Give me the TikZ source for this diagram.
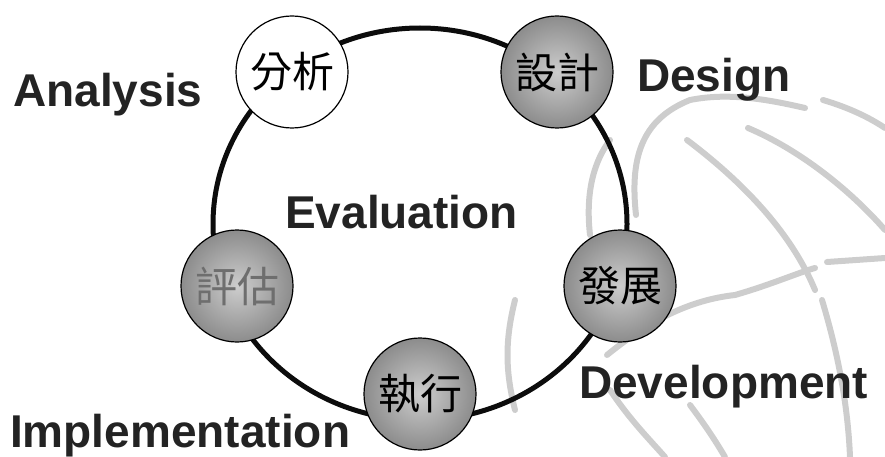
\documentclass[tikz,border=0pt]{standalone}
\usepackage{fontspec}
\setmainfont{Liberation Sans}
\newfontfamily\cjkfont{Noto Sans CJK TC}
\usetikzlibrary{positioning}
\definecolor{ringblack}{RGB}{12,12,12}
\definecolor{stagefill}{RGB}{140,140,140}
\definecolor{stagelight}{RGB}{205,205,205}
\definecolor{tagdark}{RGB}{35,35,35}
\definecolor{globegray}{RGB}{205,205,205}
\definecolor{fadedtext}{RGB}{110,110,110}
\tikzset{
  stage/.style={
    circle, draw=black, line width=1.2pt,
    minimum size=112pt, inner sep=0pt,
    font=\cjkfont\fontsize{42}{42}\selectfont
  },
  stageshade/.style={stage, inner color=stagelight, outer color=stagefill},
  tag/.style={anchor=base west, inner sep=0pt,
    font=\bfseries\fontsize{46}{46}\selectfont, text=tagdark},
  ring/.style={line width=5pt, draw=ringblack},
  globe/.style={line width=6pt, draw=globegray, line cap=round},
}

\begin{document}
\begin{tikzpicture}[x=1pt, y=-1pt]
\useasboundingbox (0,0) rectangle (885,457);

%% ─── GLOBE (background) ─────────────────────────────────────
\draw[globe] (636,215) .. controls (630,160) and (640,120) .. (690,100)
  .. controls (730,92) and (770,100) .. (805,108);
\draw[globe] (687,140) .. controls (740,180) and (790,230) .. (815,290);
\draw[globe] (748,128) .. controls (800,150) and (850,190) .. (885,230);
\draw[globe] (823,100) .. controls (850,108) and (870,118) .. (885,128);
\draw[globe] (607,355) .. controls (650,320) and (690,300) .. (735,295)
  .. controls (770,285) and (800,272) .. (815,268);
\draw[globe] (827,262) -- (885,258);
\draw[globe] (822,300) .. controls (840,360) and (848,410) .. (850,457);
\draw[globe] (610,390) .. controls (630,420) and (650,440) .. (665,457);
\draw[globe] (690,405) .. controls (705,425) and (715,440) .. (725,457);
\draw[globe] (590,235) .. controls (585,190) and (595,160) .. (610,140);
\draw[globe] (515,300) .. controls (505,340) and (505,370) .. (515,410);

%% ─── RING ───────────────────────────────────────────────────
\coordinate (hub) at (420,224);
\draw[ring] (hub) ellipse [x radius=207, y radius=196];

%% ─── STAGES ─────────────────────────────────────────────────
\node[stage, fill=white] (analysis) at (292,72) {分析};
\node[stageshade] (design) at (557,72) {設計};
\node[stageshade] (develop) at (620,286) {發展};
\node[stageshade] (implement) at (420,394) {執行};
\node[stageshade, text=fadedtext] (evaluate) at (237,286) {評估};

%% ─── LABELS ─────────────────────────────────────────────────
\node[tag] (lblanalysis) at (13,107) {Analysis};
\node[tag] (lbldesign) at (637,92) {Design};
\node[tag] (lblevaluate) at (285,228) {Evaluation};
\node[tag] (lbldevelop) at (579,398) {Development};
\node[tag] (lblimplement) at (10,447) {Implementation};

\end{tikzpicture}
\end{document}
